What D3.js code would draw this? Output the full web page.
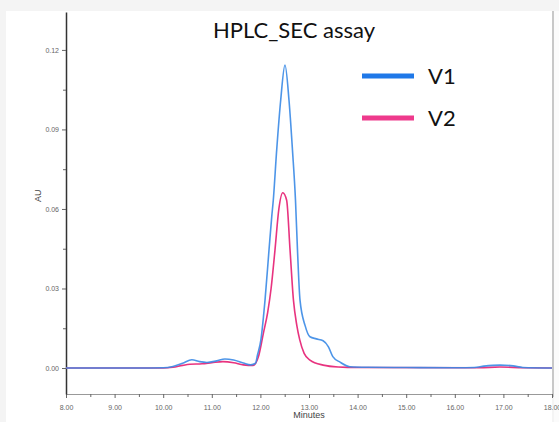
<!DOCTYPE html>
<html>
<head>
<meta charset="utf-8">
<script src="https://cdn.jsdelivr.net/npm/d3@7"></script>
<style>
  body { margin: 0; background: #f4f4f4; }
  #chart { width: 559px; height: 422px; }
</style>
</head>
<body>
<div id="chart"></div>
<script>
const title = "HPLC_SEC assay";
const seriesNames = ["V1", "V2"];

// retention time (minutes) and absorbance (AU)
const v1Time = [8.0, 9.5, 10.0, 10.2, 10.4, 10.59, 10.75, 10.9, 11.1, 11.27, 11.45, 11.65, 11.8, 11.9, 11.94, 12.01, 12.095, 12.177, 12.233, 12.265, 12.335, 12.418, 12.506, 12.588, 12.66, 12.722, 12.763, 12.815, 12.92, 13.02, 13.15, 13.29, 13.4, 13.49, 13.64, 13.84, 14.2, 15.0, 16.0, 16.4, 16.6, 16.93, 17.2, 17.4, 18.0];
const v1Au = [0, 0, 0.0001, 0.0006, 0.0018, 0.0031, 0.0024, 0.0021, 0.0027, 0.0034, 0.0030, 0.0019, 0.0012, 0.0018, 0.0049, 0.0106, 0.0256, 0.0445, 0.057, 0.0633, 0.0822, 0.1011, 0.1143, 0.1011, 0.0822, 0.0633, 0.0445, 0.0256, 0.016, 0.0118, 0.0110, 0.0103, 0.0080, 0.0043, 0.0022, 0.0005, 0.0003, 0.0002, 0.0001, 0.0002, 0.0007, 0.0011, 0.0008, 0.0002, 0];

const v2Time = [8.0, 10.0, 10.2, 10.4, 10.55, 10.8, 11.0, 11.23, 11.45, 11.65, 11.85, 11.96, 12.06, 12.15, 12.22, 12.3, 12.38, 12.46, 12.54, 12.61, 12.68, 12.75, 12.81, 12.9, 13.02, 13.29, 13.6, 14.0, 16.5, 16.93, 17.4, 18.0];
const v2Au = [0, 0, 0.0003, 0.0010, 0.0014, 0.0016, 0.0020, 0.0024, 0.0020, 0.0012, 0.0010, 0.0043, 0.013, 0.021, 0.030, 0.0445, 0.060, 0.0661, 0.0633, 0.0445, 0.0256, 0.016, 0.0106, 0.0055, 0.0030, 0.0011, 0.0004, 0.0002, 0.0001, 0.0004, 0.0001, 0];

const xTicks = [8, 9, 10, 11, 12, 13, 14, 15, 16, 17, 18];
const xMinor = [8.5, 9.5, 10.5, 11.5, 12.5, 13.5, 14.5, 15.5, 16.5, 17.5];
const yTicks = [0, 0.03, 0.06, 0.09, 0.12];
const yMinor = [0.015, 0.045, 0.075, 0.105];

const colors = { V1: "#3a8ae6", V2: "#e8337f" };
const legendColors = { V1: "#1f78e8", V2: "#ee3a8c" };

const width = 559, height = 422;
const svg = d3.select("#chart").append("svg")
  .attr("width", width)
  .attr("height", height);

// white page panel with grey frame
svg.append("rect")
  .attr("x", 6).attr("y", 11)
  .attr("width", 546).attr("height", 411)
  .attr("fill", "#fff");
svg.append("rect")
  .attr("x", 554).attr("y", 11)
  .attr("width", 5).attr("height", 411)
  .attr("fill", "#fbfbfb");

const x = d3.scaleLinear().domain([8, 18]).range([66, 552]);
const y = d3.scaleLinear().domain([-0.0098, 0.1343]).range([394, 12]);

// right border
svg.append("line")
  .attr("x1", 553).attr("x2", 553)
  .attr("y1", 11).attr("y2", 397)
  .attr("stroke", "#c8c8c8")
  .attr("stroke-width", 2);

const tickFont = "'Liberation Sans', Arial, sans-serif";

const gx = svg.append("g")
  .attr("transform", "translate(0," + y.range()[0] + ")")
  .call(d3.axisBottom(x).tickValues(xTicks).tickFormat(d3.format(".2f")).tickSize(4).tickSizeOuter(0));
svg.append("g")
  .attr("transform", "translate(0," + y.range()[0] + ")")
  .call(d3.axisBottom(x).tickValues(xMinor).tickFormat("").tickSize(3).tickSizeOuter(0))
  .select(".domain").remove();
gx.select(".domain").attr("stroke", "#999");

const gy = svg.append("g")
  .attr("transform", "translate(" + x.range()[0] + ",0)")
  .call(d3.axisLeft(y).tickValues(yTicks).tickFormat(d3.format(".2f")).tickSize(4).tickSizeOuter(0));
svg.append("g")
  .attr("transform", "translate(" + x.range()[0] + ",0)")
  .call(d3.axisLeft(y).tickValues(yMinor).tickFormat("").tickSize(3).tickSizeOuter(0))
  .select(".domain").remove();
gy.select(".domain").attr("stroke", "#333").attr("stroke-width", 1.5);

svg.selectAll(".tick line").attr("stroke", "#666");
svg.selectAll(".tick text")
  .style("font-family", tickFont)
  .style("font-size", "7px")
  .attr("fill", "#666");
gx.selectAll(".tick text").attr("dy", "1.3em");

svg.append("text")
  .attr("x", x(13)).attr("y", 418)
  .attr("text-anchor", "middle")
  .style("font-family", tickFont)
  .style("font-size", "9px")
  .attr("fill", "#444")
  .text("Minutes");

svg.append("text")
  .attr("transform", "translate(41," + y(0.065) + ")rotate(-90)")
  .attr("text-anchor", "middle")
  .style("font-family", tickFont)
  .style("font-size", "9px")
  .attr("fill", "#444")
  .text("AU");

const line = d3.line()
  .x(function(d) { return x(d[0]); })
  .y(function(d) { return y(d[1]); })
  .curve(d3.curveMonotoneX);

const series = [
  { name: "V2", pts: d3.zip(v2Time, v2Au) },
  { name: "V1", pts: d3.zip(v1Time, v1Au) }
];

svg.append("g")
  .selectAll("path")
  .data(series)
  .enter()
  .append("path")
    .attr("d", function(d) { return line(d.pts); })
    .attr("fill", "none")
    .attr("stroke", function(d) { return colors[d.name]; })
    .attr("stroke-width", 1.6)
    .attr("stroke-opacity", function(d) { return d.name === "V1" ? 0.9 : 1; });

svg.append("text")
  .attr("x", 294).attr("y", 38)
  .attr("text-anchor", "middle")
  .style("font-family", "Lato, 'Open Sans', sans-serif")
  .style("font-size", "22px")
  .attr("fill", "#111")
  .text(title);

const legend = svg.append("g")
  .selectAll("g")
  .data(seriesNames)
  .enter()
  .append("g")
    .attr("transform", function(d, i) { return "translate(362," + (76 + i * 42) + ")"; });
legend.append("line")
  .attr("x1", 0).attr("x2", 52)
  .attr("stroke", function(d) { return legendColors[d]; })
  .attr("stroke-width", 5);
legend.append("text")
  .attr("x", 66).attr("y", 8)
  .style("font-family", "Lato, 'Open Sans', sans-serif")
  .style("font-size", "22px")
  .attr("fill", "#111")
  .text(function(d) { return d; });
</script>
</body>
</html>
